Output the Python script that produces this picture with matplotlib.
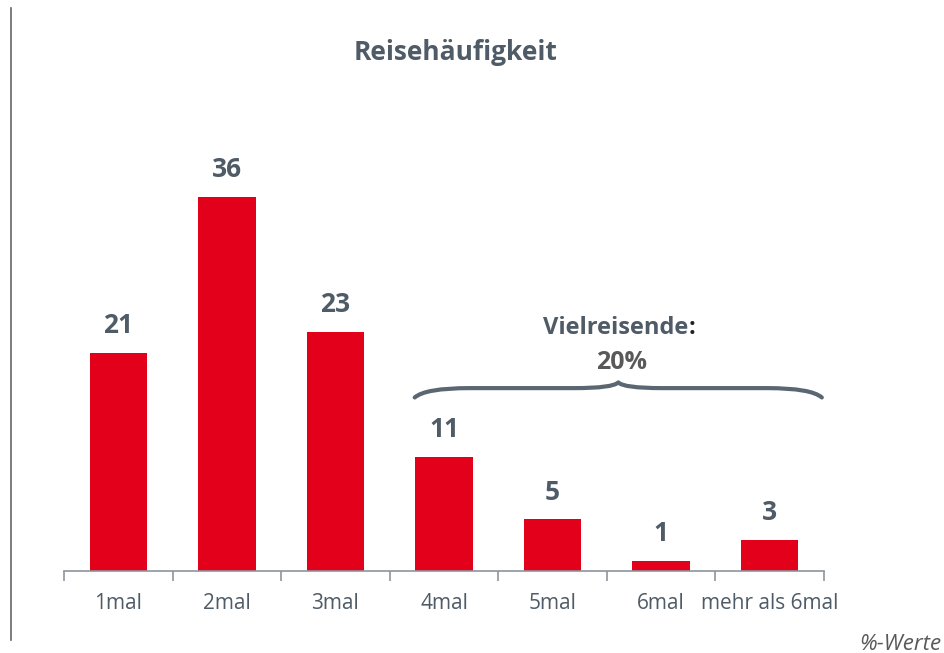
import matplotlib
matplotlib.use("Agg")
import matplotlib.pyplot as plt
from matplotlib.path import Path
from matplotlib.patches import PathPatch
from matplotlib.lines import Line2D

categories = ["1mal", "2mal", "3mal", "4mal", "5mal", "6mal", "mehr als 6mal"]
values = [21, 36, 23, 11, 5, 1, 3]
title = "Reisehäufigkeit"
group_label = "Vielreisende"
group_value = "20%"
footnote = "%-Werte"

RED = "#e2001a"
TXT = "#4f5b66"
AX = "#8c959e"

plt.rcParams['font.family'] = ['Open Sans', 'DejaVu Sans']

fig = plt.figure(figsize=(9.44, 6.53), dpi=100)
W, H = 944, 653
ax = fig.add_axes([64 / W, 1 - 571 / H, (824 - 64) / W, 467.6 / H])
x = list(range(len(categories)))
ax.bar(x, values, width=0.53, color=RED, zorder=2)
ax.set_xlim(-0.5, len(categories) - 0.5)
ax.set_ylim(0, 45)
for s in ["top", "right", "left"]:
    ax.spines[s].set_visible(False)
ax.spines["bottom"].set_color(AX)
ax.spines["bottom"].set_linewidth(1.2)
ax.set_yticks([])
ax.set_xticks([i - 0.5 for i in range(len(categories) + 1)], minor=False)
ax.set_xticklabels([])
ax.tick_params(axis="x", length=7, width=1.2, color=AX, direction="out")
for i, c in enumerate(categories):
    ax.text(i, -3.1, c, ha="center", va="center", fontsize=15, color=TXT)
for i, v in enumerate(values):
    ax.text(i, v + 1.3, str(v), ha="center", va="bottom", fontsize=19,
            fontweight="bold", color=TXT)

# brace over groups 4mal..mehr als 6mal
x0, x1 = 2.73, 6.48
xm = (x0 + x1) / 2
yb, yl, yt = 16.7, 17.6, 18.15
verts = [(x0, yb), (x0 + 0.1, yl), (x0 + 0.5, yl),
         (xm - 0.4, yl),
         (xm - 0.05, yl), (xm, yt),
         (xm + 0.05, yl), (xm + 0.4, yl),
         (x1 - 0.5, yl),
         (x1 - 0.1, yl), (x1, yb)]
codes = [Path.MOVETO, Path.CURVE3, Path.CURVE3,
         Path.LINETO,
         Path.CURVE3, Path.CURVE3,
         Path.CURVE3, Path.CURVE3,
         Path.LINETO,
         Path.CURVE3, Path.CURVE3]
ax.add_patch(PathPatch(Path(verts, codes), fill=False, edgecolor="#5a6773",
                       linewidth=3, capstyle="round", joinstyle="round",
                       clip_on=False))
lbl = ax.text(xm - 0.02, 23.4, group_label, ha="center", va="center",
              fontsize=17, fontweight="bold", color=TXT)
ax.annotate(":", xy=(1, 0.5), xycoords=lbl, ha="left", va="center",
            fontsize=17, fontweight="bold", color="#222222")
ax.text(xm + 0.03, 20.1, group_value, ha="center", va="center", fontsize=18,
        fontweight="bold", color="#595959")

fig.text(456 / W, 1 - 52 / H, title, ha="center", va="center", fontsize=19,
         fontweight="bold", color=TXT)
fig.text(941 / W, 1 - 644 / H, footnote, ha="right", va="center",
         fontsize=16, style="italic", color="#595959")
fig.add_artist(Line2D([10.5 / W, 10.5 / W], [1 - 8 / H, 1 - 640 / H],
                      transform=fig.transFigure, color="#666666", linewidth=1.2))

fig.savefig("out.png", dpi=100)
